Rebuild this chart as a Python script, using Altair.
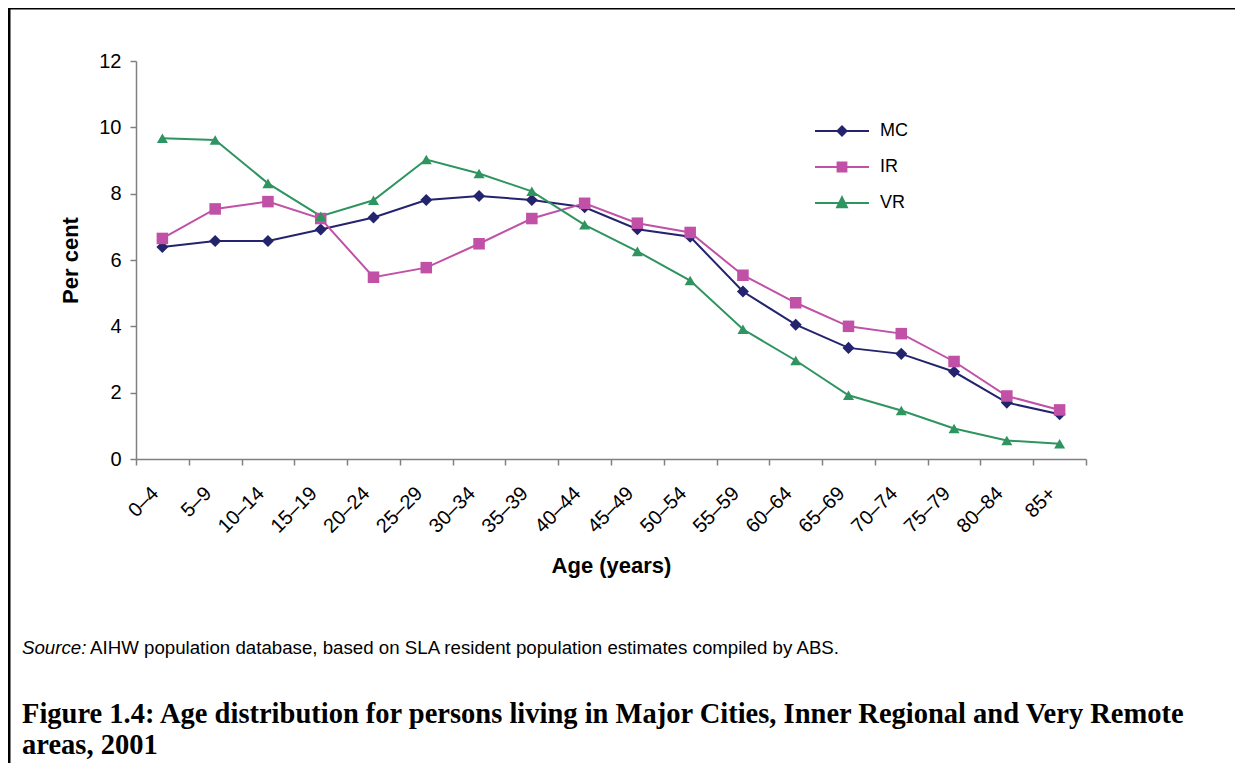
import json
import altair as alt
import pandas as pd

ages = ["0–4", "5–9", "10–14", "15–19", "20–24", "25–29", "30–34", "35–39", "40–44",
        "45–49", "50–54", "55–59", "60–64", "65–69", "70–74", "75–79", "80–84", "85+"]
mc = [6.39, 6.57, 6.57, 6.92, 7.28, 7.81, 7.93, 7.81, 7.59, 6.93, 6.70, 5.05, 4.05, 3.35, 3.17, 2.63, 1.70, 1.35]
ir = [6.65, 7.54, 7.76, 7.25, 5.48, 5.77, 6.49, 7.25, 7.71, 7.11, 6.83, 5.54, 4.71, 4.00, 3.78, 2.94, 1.90, 1.48]
vr = [9.67, 9.62, 8.31, 7.32, 7.80, 9.03, 8.61, 8.07, 7.06, 6.26, 5.38, 3.91, 2.97, 1.92, 1.46, 0.92, 0.56, 0.46]
series = ["MC", "IR", "VR"]
colors = ["#23236E", "#C051A6", "#2E9460"]
shapes = ["diamond", "square", "triangle-up"]
sizes = [145, 121, 175]

y_ticks = [0, 2, 4, 6, 8, 10, 12]
source_lead = "Source:"
source_rest = "AIHW population database, based on SLA resident population estimates compiled by ABS."
caption1 = "Figure 1.4: Age distribution for persons living in Major Cities, Inner Regional and Very Remote"
caption2 = "areas, 2001"

rows = []
for s, vals in zip(series, [mc, ir, vr]):
    for i, (a, v) in enumerate(zip(ages, vals)):
        rows.append({"age": a, "pos": i + 0.5, "series": s, "value": v})
df = pd.DataFrame(rows)

FONT = "Liberation Sans"
n = len(ages)
label_expr = f"datum.value < {n} ? {json.dumps(ages, ensure_ascii=False)}[datum.value] : ''"

x_enc = alt.X("pos:Q", scale=alt.Scale(domain=[0, n], nice=False, zero=False),
              axis=alt.Axis(values=list(range(n + 1)), labelExpr=label_expr, title="Age (years)",
                            labelAngle=-45, labelAlign="right", labelBaseline="middle",
                            labelOffset=19, labelPadding=25, tickSize=6, labelOverlap=False,
                            titleY=106, titleBaseline="middle"))
y_enc = alt.Y("value:Q", scale=alt.Scale(domain=[0, 12], nice=False),
              axis=alt.Axis(values=y_ticks, title="Per cent", tickSize=6, labelPadding=9,
                            titleX=-66, titleBaseline="middle"))
color_scale = alt.Scale(domain=series, range=colors)

lines = alt.Chart(df).mark_line(strokeWidth=2).encode(
    x=x_enc, y=y_enc,
    color=alt.Color("series:N", scale=color_scale, legend=None),
)
points = alt.Chart(df).mark_point(filled=True, opacity=1).encode(
    x=x_enc, y=y_enc,
    color=alt.Color("series:N", scale=color_scale, legend=None),
    shape=alt.Shape("series:N", scale=alt.Scale(domain=series, range=shapes), legend=None),
    size=alt.Size("series:N", scale=alt.Scale(domain=series, range=sizes), legend=None),
)

line_path = "M-1,-0.037H1V0.037H-1Z"
legend_paths = [
    line_path + "M0,-0.22L0.22,0L0,0.22L-0.22,0Z",
    line_path + "M-0.2,-0.2H0.2V0.2H-0.2Z",
    line_path + "M0,-0.3L0.24,0.19H-0.24Z",
]
leg = alt.Legend(orient="none", legendX=679, legendY=43, padding=0, symbolSize=2916,
                 symbolStrokeWidth=0, labelFont=FONT, labelFontSize=18, labelColor="black",
                 labelOffset=11, rowPadding=-9, symbolOpacity=1)
legend_layer = alt.Chart(df).mark_point(filled=True, opacity=1, size=2916).encode(
    color=alt.Color("series:N", scale=color_scale, legend=leg, title=None),
    shape=alt.Shape("series:N", scale=alt.Scale(domain=series, range=legend_paths), legend=leg, title=None),
).transform_filter("false")

def text_layer(txt, x, y, size, font, weight="normal", style="normal"):
    return alt.Chart(pd.DataFrame({"t": [txt]})).mark_text(
        align="left", baseline="middle", font=font, fontSize=size,
        fontWeight=weight, fontStyle=style, color="black"
    ).encode(text="t:N", x=alt.value(x), y=alt.value(y))

texts = [
    text_layer(source_lead, -114, 587, 18.7, FONT, style="italic"),
    text_layer(source_rest, -46, 587, 18.7, FONT),
    text_layer(caption1, -114, 653, 28.5, "Liberation Serif", weight="bold"),
    text_layer(caption2, -114, 684, 28.5, "Liberation Serif", weight="bold"),
]

one = pd.DataFrame({"k": [0]})
frame_top = alt.Chart(one).mark_rule(color="black", strokeWidth=3).encode(
    x=alt.value(-128), x2=alt.value(1100), y=alt.value(-53))
frame_left = alt.Chart(one).mark_rule(color="black", strokeWidth=3).encode(
    x=alt.value(-127), y=alt.value(-54), y2=alt.value(710))

chart = alt.layer(lines, points, legend_layer, *texts, frame_top, frame_left).resolve_scale(
    shape="independent"
).resolve_legend(color="independent", shape="independent").properties(
    width=950, height=398,
    autosize=alt.AutoSizeParams(type="none"),
    padding={"left": 128, "top": 53, "right": 149, "bottom": 304},
    background="white",
).configure_view(strokeWidth=0).configure_axis(
    grid=False, domainColor="#808080", domainWidth=1.5, tickColor="#808080", tickWidth=1.5,
    labelFont=FONT, labelFontSize=20, labelColor="black",
    titleFont=FONT, titleFontSize=22, titleFontWeight="bold", titleColor="black",
)

chart.save("out.html", embed_options={"renderer": "svg", "actions": False})
